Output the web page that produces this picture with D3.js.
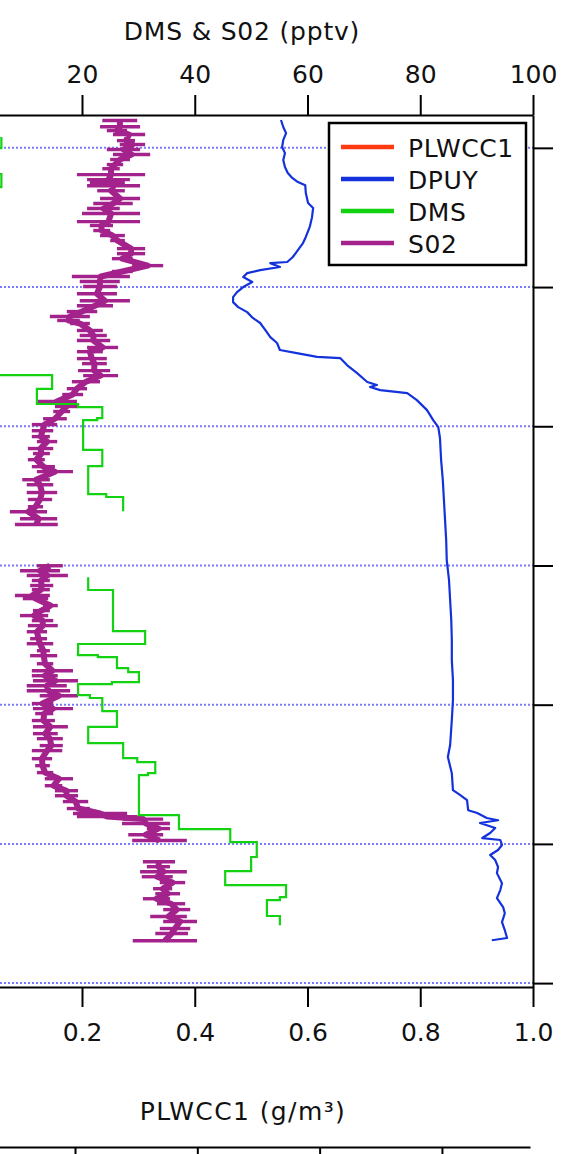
<!DOCTYPE html>
<html><head><meta charset="utf-8">
<script src="https://cdn.jsdelivr.net/npm/d3@7/dist/d3.min.js"></script>
<style>
html,body{margin:0;padding:0;background:#fff;}
svg{display:block;}
text{font-family:"DejaVu Sans",sans-serif;}
</style></head><body>
<svg id="chart" width="564" height="1154"></svg>
<script>
// ---------------- data ----------------
const dmsTicks = [20, 40, 60, 80, 100];          // DMS & S02 (pptv), top axis
const plwccTicks = [0.2, 0.4, 0.6, 0.8, 1.0];    // PLWCC1 (g/m3), bottom axis
const altTicks = [0, 500, 1000, 1500, 2000, 2500, 3000]; // vertical axis (labels cropped)
const nextPanelTicks = [10, 20, 30, 40];         // axis of the panel below (labels cropped)
const seriesNames = ["PLWCC1", "DPUY", "DMS", "S02"];
const seriesColors = ["#ff3a10", "#1432dc", "#12d212", "#a3228c"];

// PLWCC1: no visible trace inside this crop
const plwcc1 = [];

// DPUY [altitude, value]
const dpuy = [
[3100,55.3],[3075,55.7],[3053,56.2],[3028,55.7],[3003,55.5],[2981,56.0],[2956,55.7],[2931,56.0],[2910,56.5],[2892,57.3],[2877,58.3],[2866,59.6],[2838,59.7],[2802,60.1],[2784,61.0],[2751,60.8],[2716,60.4],[2680,59.7],[2658,59.2],[2633,58.3],[2608,57.4],[2590,56.4],[2586,53.4],[2572,55.1],[2561,51.6],[2550,49.3],[2536,48.6],[2518,50.2],[2500,48.6],[2482,47.5],[2464,46.8],[2446,46.8],[2428,47.7],[2410,49.3],[2389,50.3],[2371,51.6],[2346,52.5],[2320,53.4],[2299,54.6],[2274,55.1],[2263,58.1],[2249,61.7],[2245,65.8],[2220,67.0],[2191,68.8],[2159,70.6],[2148,72.3],[2141,71.1],[2130,72.9],[2119,77.7],[2094,79.4],[2058,81.2],[2022,82.3],[1997,83.2],[1958,83.5],[1879,83.7],[1807,84.0],[1735,84.2],[1663,84.4],[1591,84.6],[1519,84.7],[1448,85.1],[1376,85.3],[1304,85.5],[1232,85.6],[1160,85.6],[1088,85.8],[1017,85.8],[945,85.6],[855,85.3],[812,84.9],[754,85.6],[693,85.8],[675,87.1],[657,88.3],[621,88.5],[611,90.1],[593,91.8],[585,93.8],[575,90.6],[557,93.3],[539,92.4],[521,91.0],[514,94.2],[496,94.5],[478,93.8],[460,92.4],[442,93.3],[417,93.8],[395,93.6],[359,94.5],[334,94.2],[305,93.6],[273,94.7],[251,95.0],[219,94.5],[190,95.0],[162,95.4],[154,92.7]
];

// DMS [altitude, value] (stepped), null = gap
const dms = [
[3039,5.7],[2999,3.5],[2906,5.7],[2859,3.5],[2184,14.7],[2134,12.0],[2080,19.3],[2069,23.6],[2029,22.7],[2022,20.2],[1915,23.6],[1857,21.1],[1756,24.3],[1746,27.3],[1695,27.3],
[1580,null],
[1458,21.1],[1412,25.5],[1264,31.2],[1218,19.3],[1178,22.8],[1171,26.2],[1131,28.2],[1117,30.1],[1081,25.3],[1074,19.3],[1034,21.4],[1024,23.6],[977,26.2],[920,21.1],[862,27.3],[808,29.8],[794,33.0],[754,31.7],[747,30.1],[603,37.2],[553,46.3],[506,51.0],[453,50.0],[402,45.4],[352,56.2],[309,55.1],[298,52.8],[241,55.1],[208,55.1]
];

// S02 [altitude, min, max] of the fast samples in each thin layer; null = gap
const so2 = [
[3098,23.6,29.8],[3076,23.2,30.3],[3062,24.4,28.0],[3048,25.5,31.2],[3026,26.2,29.4],[3012,26.7,31.2],[2994,24.4,30.3],[2976,25.5,32.1],[2958,25.0,28.5],[2940,24.4,27.3],[2925,23.6,26.7],[2904,19.1,31.2],[2886,20.9,28.5],[2875,21.4,27.6],[2864,20.9,30.3],[2846,22.7,27.6],[2818,23.2,30.3],[2800,22.0,29.0],[2782,20.9,26.7],[2764,20.0,30.3],[2735,19.1,30.3],[2721,21.4,25.5],[2703,22.0,25.0],[2685,23.2,27.6],[2667,25.0,27.6],[2638,26.2,31.2],[2620,26.2,31.2],[2602,25.3,29.0],[2577,28.9,34.4],[2556,25.3,29.0],[2538,18.2,28.5],[2520,19.6,26.7],[2502,20.2,26.2],[2476,19.1,26.2],[2451,19.6,28.5],[2433,19.1,25.5],[2412,17.3,22.7],[2394,14.3,21.4],[2380,15.6,19.6],[2369,17.9,21.4],[2344,19.1,23.7],[2326,19.6,24.4],[2308,19.1,25.0],[2283,20.9,26.4],[2268,19.1,23.7],[2243,19.1,24.4],[2225,20.0,24.4],[2200,19.3,25.0],[2182,20.2,26.4],[2160,18.2,23.2],[2135,17.3,20.9],[2114,16.5,20.2],[2089,12.0,19.1],[2071,15.2,19.3],[2053,14.9,17.9],[2027,13.1,17.3],[2006,11.1,15.6],[1984,11.1,14.9],[1963,11.1,14.3],[1945,12.0,15.6],[1920,10.4,14.9],[1902,11.3,14.3],[1880,10.4,13.4],[1855,11.1,15.2],[1837,12.0,18.4],[1808,9.4,14.3],[1790,10.2,14.9],[1762,10.2,15.6],[1737,10.4,14.7],[1711,10.4,13.1],[1693,7.2,13.8],[1668,9.0,15.6],[1647,8.1,15.7],
[1570,null,null],
[1499,12.0,16.6],[1481,9.0,16.1],[1464,10.2,17.5],[1446,11.1,14.3],[1428,10.8,14.9],[1413,11.1,14.3],[1392,8.1,14.3],[1381,9.5,14.0],[1356,13.1,15.7],[1338,11.3,14.3],[1320,9.0,14.0],[1302,11.1,14.9],[1284,10.4,15.7],[1262,10.2,13.8],[1237,10.8,13.8],[1219,10.2,14.9],[1194,12.0,14.3],[1176,10.8,15.6],[1147,12.0,14.9],[1122,11.1,18.4],[1104,11.1,15.7],[1086,11.3,19.3],[1068,10.2,17.3],[1050,10.2,17.9],[1032,12.5,19.3],[1004,11.1,14.9],[986,11.3,18.4],[968,11.7,14.9],[943,11.1,15.2],[921,11.3,17.5],[896,11.3,15.7],[878,12.0,16.6],[853,12.5,16.6],[835,11.1,16.5],[806,11.1,14.7],[781,11.7,14.3],[756,12.0,14.9],[734,13.4,18.4],[709,13.4,16.5],[691,15.2,19.3],[673,15.2,19.3],[652,16.6,21.1],[627,17.3,21.4],[609,18.4,28.0],[598,19.1,29.8],[589,27.3,34.4],[573,27.1,35.6],[555,31.5,35.6],[533,28.2,34.4],[512,28.9,38.6],
[470,null,null],
[436,30.8,36.5],[418,31.5,35.6],[400,30.3,38.6],[382,30.6,36.1],[361,33.8,38.3],[339,32.6,36.0],[321,33.0,37.4],[303,30.8,35.6],[285,33.3,38.3],[264,34.4,39.2],[239,32.1,38.6],[221,34.4,40.4],[196,33.8,39.2],[178,33.0,38.8],[152,29.0,40.4]
];

// ---------------- layout ----------------
const svg = d3.select("#chart");
const R = 533, T = 115, B = 987;
const x = d3.scaleLinear().domain([0, 100]).range([-30.75, R]);   // pptv (top)
const xB = d3.scaleLinear().domain([0, 1]).range([-30.75, R]);    // g/m3 (bottom)
const y = d3.scaleLinear().domain([-14, 3118]).range([B, T]);
const xN = d3.scaleLinear().domain([0, 47.2]).range([-47.3, 530]);
const FONT = 25;

svg.append("defs").append("clipPath").attr("id", "clip")
  .append("rect").attr("x", 0).attr("y", T).attr("width", R).attr("height", B - T);

// grid (dotted blue)
svg.append("g").selectAll("line").data(altTicks).join("line")
  .attr("x1", 0).attr("x2", R)
  .attr("y1", d => y(d)).attr("y2", d => y(d))
  .attr("stroke", "#7a7aff").attr("stroke-width", 2)
  .attr("stroke-dasharray", "2,2");

const plot = svg.append("g").attr("clip-path", "url(#clip)");

// S02: spread of each layer + trace through layer centres
const so2Valid = so2.filter(d => d[1] != null);
plot.append("g").selectAll("line").data(so2Valid).join("line")
  .attr("x1", d => x(d[1])).attr("x2", d => x(d[2]))
  .attr("y1", d => y(d[0])).attr("y2", d => y(d[0]))
  .attr("stroke", seriesColors[3]).attr("stroke-width", 3.4);
plot.append("path").datum(so2)
  .attr("fill", "none").attr("stroke", seriesColors[3]).attr("stroke-width", 6)
  .attr("stroke-linejoin", "round")
  .attr("d", d3.line().defined(d => d[1] != null)
    .x(d => x((d[1] + d[2]) / 2)).y(d => y(d[0])));

// DMS (stepped)
plot.append("path").datum(dms)
  .attr("fill", "none").attr("stroke", seriesColors[2]).attr("stroke-width", 2.2)
  .attr("d", d3.line().defined(d => d[1] != null).curve(d3.curveStepBefore)
    .x(d => x(d[1])).y(d => y(d[0])));

// DPUY
plot.append("path").datum(dpuy)
  .attr("fill", "none").attr("stroke", seriesColors[1]).attr("stroke-width", 2.2)
  .attr("stroke-linejoin", "round")
  .attr("d", d3.line().x(d => x(d[1])).y(d => y(d[0])));

// PLWCC1
plot.append("path").datum(plwcc1)
  .attr("fill", "none").attr("stroke", seriesColors[0]).attr("stroke-width", 2.2)
  .attr("d", d3.line().x(d => xB(d[1])).y(d => y(d[0])));

function styleAxis(g) {
  g.selectAll("path.domain").attr("stroke", "#000").attr("stroke-width", 2);
  g.selectAll(".tick line").attr("stroke", "#000").attr("stroke-width", 2);
  g.selectAll(".tick text").attr("fill", "#111").attr("font-size", FONT)
    .attr("font-family", "DejaVu Sans, sans-serif");
}

svg.append("g").attr("transform", `translate(0,${T})`)
  .call(d3.axisTop(x).tickValues(dmsTicks).tickSize(20).tickSizeOuter(0).tickPadding(12))
  .call(styleAxis);

svg.append("g").attr("transform", `translate(0,${B})`)
  .call(d3.axisBottom(xB).tickValues(plwccTicks).tickSize(20).tickSizeOuter(0).tickPadding(16)
    .tickFormat(d3.format(".1f")))
  .call(styleAxis);

svg.append("g").attr("transform", `translate(${R},0)`)
  .call(d3.axisRight(y).tickValues(altTicks).tickSize(20).tickSizeOuter(0).tickFormat(""))
  .call(styleAxis);

svg.append("g").attr("transform", "translate(0,1147)")
  .call(d3.axisBottom(xN).tickValues(nextPanelTicks).tickSize(10).tickSizeOuter(0).tickFormat(""))
  .call(styleAxis);

// titles
svg.append("text").attr("x", 242).attr("y", 40).attr("text-anchor", "middle")
  .attr("font-size", FONT).attr("letter-spacing", 0.8).attr("fill", "#111")
  .text("DMS & S02 (pptv)");
svg.append("text").attr("x", 243).attr("y", 1120).attr("text-anchor", "middle")
  .attr("font-size", FONT).attr("letter-spacing", 1.4).attr("fill", "#111")
  .text("PLWCC1 (g/m³)");

// legend
const lg = svg.append("g");
lg.append("rect").attr("x", 329).attr("y", 123).attr("width", 197).attr("height", 142)
  .attr("fill", "#fff").attr("stroke", "#000").attr("stroke-width", 2.5);
const rows = lg.selectAll("g.row").data(seriesNames).join("g").attr("class", "row")
  .attr("transform", (d, i) => `translate(0,${147 + i * 32})`);
rows.append("line").attr("x1", 341).attr("x2", 394).attr("y1", 0).attr("y2", 0)
  .attr("stroke", (d, i) => seriesColors[i]).attr("stroke-width", 4.5);
rows.append("text").attr("x", 408).attr("y", 10).attr("font-size", FONT)
  .attr("fill", "#111").attr("letter-spacing", 0.6).text(d => d);
</script>
</body></html>
